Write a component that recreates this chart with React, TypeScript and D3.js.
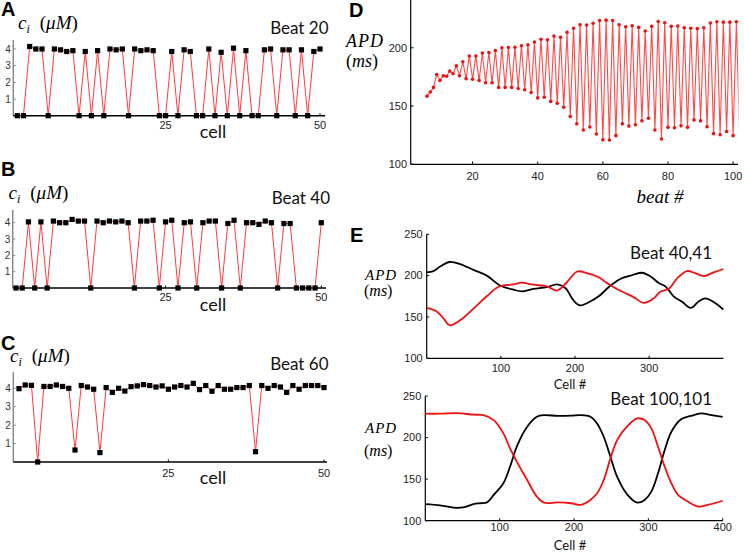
import React from 'react';
import * as d3 from 'd3';

// ---------- data ----------
const cells = d3.range(1, 51);
const ciBeat20 = [0, 0, 4.15, 4.0, 4.0, 0, 4.0, 3.95, 3.85, 3.9,
  0, 3.85, 0, 3.9, 0, 4.0, 3.95, 4.0, 0, 4.0,
  3.9, 3.95, 3.9, 0, 0, 3.85, 0, 3.95, 3.85, 0,
  0, 4.0, 0, 3.8, 0, 4.05, 0, 3.9, 0, 0,
  3.95, 4.0, 0, 3.95, 3.95, 0, 3.95, 0, 3.85, 4.0];
const ciBeat40 = [0, 0, 4.05, 0, 4.05, 0, 4.1, 4.0, 4.0, 4.2,
  4.1, 4.1, 0, 4.1, 4.0, 4.1, 4.05, 4.1, 4.0, 0,
  4.1, 4.1, 4.15, 0, 4.05, 4.15, 0, 4.0, 4.05, 0,
  4.0, 4.1, 4.1, 0, 3.95, 4.15, 0, 4.0, 4.0, 3.9,
  4.1, 4.0, 0, 3.95, 3.95, 0, 0, 0, 0, 4.0];
const ciBeat60 = [3.98, 4.18, 4.16, 0, 4.1, 4.1, 4.18, 4.1, 4.0, 0.65,
  4.15, 4.07, 3.95, 0.51, 4.04, 3.78, 4.0, 3.85, 4.09, 4.13,
  4.2, 4.15, 4.07, 4.13, 3.95, 4.07, 4.15, 4.07, 4.27, 3.93,
  4.15, 3.84, 4.15, 3.95, 3.95, 4.04, 4.04, 4.15, 0.56, 4.15,
  4.0, 4.15, 4.07, 3.78, 4.15, 3.95, 4.15, 4.15, 4.15, 4.04];
const ciTicks = [1, 2, 3, 4];
const cellTicks = [25, 50];

const firstBeat = 6;
const apdByBeat = [158.5, 162, 166, 177, 172, 176, 175.5, 180, 177.7, 184.5,
  176, 188, 173.5, 193, 173, 193, 172, 195.5, 170, 196,
  170, 197.7, 166, 200, 166, 200.3, 166, 200.5, 165, 201.7,
  164, 202.5, 161.6, 205, 157, 207.3, 157.6, 206.8, 154, 210,
  152.3, 209, 148.9, 213.3, 141, 216.7, 134.7, 219.8, 129.4, 219.5,
  132, 221, 126, 223.4, 121, 223.7, 120.8, 223.4, 124.6, 219.8,
  134.7, 218, 132.8, 218.9, 133.9, 217.5, 137.3, 214.4, 139.5, 218.4,
  129.4, 222.6, 121.7, 221.5, 131.7, 218.4, 131.4, 218.7, 133, 217.2,
  131.7, 216.7, 138.1, 216.4, 137.3, 217.2, 132.2, 221.2, 126.3, 222.3,
  125.4, 222, 128.2, 222, 124.6, 222.3, 125];
const beats = apdByBeat.map((_, i) => firstBeat + i);
const apdTicksD = [100, 150, 200];
const beatTicks = [20, 40, 60, 80, 100];

const apd40Black: [number, number][] = [[0, 204], [9, 205.5], [18, 211], [31, 216.5], [45, 214], [63, 207], [81, 200], [99, 188], [117, 183], [128, 181], [144, 184], [162, 186], [176, 189.5], [187, 185], [198, 170], [207, 164], [221, 169], [232, 175], [248, 188], [261, 196], [275, 200], [290, 203.5], [302, 199], [313, 191], [322, 187], [333, 175], [345, 168], [356, 161], [367, 169], [376, 172.5], [387, 168], [400, 159]];
const apd41Red: [number, number][] = [[0, 161], [13, 157], [22, 149], [31, 140], [45, 146], [63, 160], [81, 175], [97, 186.5], [117, 189.5], [128, 191.5], [144, 189], [162, 187], [176, 182], [189, 192], [203, 205], [216, 203], [232, 198], [243, 191], [257, 183.5], [270, 178], [279, 174], [293, 167], [306, 172.5], [315, 180.5], [327, 184.5], [338, 197], [351, 205.5], [362, 203], [374, 199.5], [387, 204], [400, 208]];
const apd100Black: [number, number][] = [[0, 120], [20, 118.5], [38, 115.7], [51, 116], [65, 120], [74, 121], [83, 122], [92, 131], [105, 145], [114, 165], [123, 189], [137, 213], [150, 225], [160, 227], [178, 226], [196, 226.3], [209, 227], [222, 225], [231, 217], [240, 201], [249, 177], [258, 153], [272, 131], [285, 121.7], [295, 125], [304, 135], [313, 157], [322, 185], [331, 207], [344, 222], [357, 226], [371, 229], [385, 227], [400, 225]];
const apd101Red: [number, number][] = [[0, 228.7], [20, 228.7], [42, 229.5], [65, 227.5], [78, 227], [92, 221], [105, 205], [114, 187], [123, 171], [137, 149], [150, 129], [160, 121.7], [178, 122], [196, 121], [209, 119], [222, 125], [231, 133], [240, 149], [249, 175], [258, 197], [272, 214], [285, 223], [295, 221], [304, 211], [313, 189], [322, 165], [331, 145], [340, 131], [353, 123], [367, 117], [380, 119], [400, 124]];
const apdTicksE = [100, 150, 200, 250];
const cellTicksTop = [100, 200, 300];
const cellTicksBottom = [100, 200, 300, 400];

// ---------- styles ----------
const SANS = 'Lato, "Open Sans", sans-serif';
const TICKF = '"Liberation Sans", Arial, sans-serif';
const MATH = '"Liberation Serif", "DejaVu Serif", serif';
const LETTERF = '"Liberation Sans", Arial, sans-serif';

type CiProps = {
  data: number[]; x0: number; x1: number; y0: number; y4: number;
  axisX: number; axisTop: number; axisRight: number;
  letter: string; letterY: number; beat: string; beatX: number; beatY: number;
  ciX: number; ciY: number; cellY: number; tickY: number;
};

function CiPanel(p: CiProps) {
  const x = d3.scaleLinear().domain([1, 50]).range([p.x0, p.x1]);
  const y = d3.scaleLinear().domain([0, 4]).range([p.y0, p.y4]);
  const line = d3.line<number>().x((_, i) => x(cells[i])).y(d => y(d));
  return (
    <g>
      <text x={1} y={p.letterY} fontFamily={LETTERF} fontWeight="bold" fontSize={20}>{p.letter}</text>
      <text x={p.ciX} y={p.ciY} fontFamily={MATH} fontSize={19} fontStyle="italic">
        c<tspan fontSize={12} dy={4}>i</tspan>
        <tspan dy={-4} dx={10} fontStyle="normal">(</tspan>
        <tspan>μM</tspan>
        <tspan fontStyle="normal">)</tspan>
      </text>
      <text x={p.beatX} y={p.beatY} fontFamily={SANS} fontSize={17} textAnchor="end" fill="#111">{p.beat}</text>
      <line x1={p.axisX} x2={p.axisX} y1={p.axisTop} y2={p.y0} stroke="#8a8a8a" strokeWidth={1.5} />
      {ciTicks.map(t => (
        <g key={t}>
          <line x1={p.axisX} x2={p.axisX + 2.5} y1={y(t)} y2={y(t)} stroke="#8a8a8a" />
          <text x={p.axisX - 2.5} y={y(t)} dy="0.35em" textAnchor="end" fontFamily={TICKF} fontSize={10} fill="#333">{t}</text>
        </g>
      ))}
      <line x1={p.axisX} x2={p.axisRight} y1={p.y0} y2={p.y0} stroke="#000" strokeWidth={1.5} />
      {cellTicks.map(t => (
        <g key={t}>
          <line x1={x(t)} x2={x(t)} y1={p.y0} y2={p.y0 - 2.5} stroke="#000" />
          <text x={x(t)} y={p.tickY} textAnchor="middle" fontFamily={TICKF} fontSize={11} fill="#222">{t}</text>
        </g>
      ))}
      <text x={213} y={p.cellY} textAnchor="middle" fontFamily={SANS} fontSize={18} fill="#111">cell</text>
      <path d={line(p.data) || ''} fill="none" stroke="#ff3b3b" strokeWidth={1} />
      {p.data.map((d, i) => (
        <rect key={i} x={x(cells[i]) - 2.6} y={y(d) - 2.6} width={5.2} height={5.2} fill="#000" />
      ))}
    </g>
  );
}

function PanelD() {
  const x = d3.scaleLinear().domain([1, 101.5]).range([410.7, 738]);
  const y = d3.scaleLinear().domain([100, 241]).range([164.3, 0]);
  const line = d3.line<number>().x((_, i) => x(beats[i])).y(d => y(d));
  return (
    <g>
      <text x={349} y={17} fontFamily={LETTERF} fontWeight="bold" fontSize={20}>D</text>
      <text x={346} y={47} fontFamily={MATH} fontStyle="italic" fontSize={18} letterSpacing={1}>APD</text>
      <text x={346} y={67} fontFamily={MATH} fontSize={18}>(<tspan fontStyle="italic">ms</tspan>)</text>
      <text x={660} y={203} textAnchor="middle" fontFamily={MATH} fontStyle="italic" fontSize={19}>beat #</text>
      <line x1={x.range()[0]} x2={x.range()[0]} y1={0} y2={164.3} stroke="#000" strokeWidth={1.2} />
      <line x1={x.range()[0]} x2={738} y1={164.3} y2={164.3} stroke="#000" strokeWidth={1.2} />
      {apdTicksD.map(t => (
        <g key={t}>
          <line x1={410.7} x2={413.5} y1={y(t)} y2={y(t)} stroke="#000" />
          <text x={407} y={y(t)} dy="0.35em" textAnchor="end" fontFamily={TICKF} fontSize={11} fill="#222">{t}</text>
        </g>
      ))}
      {beatTicks.map(t => (
        <g key={t}>
          <line x1={x(t)} x2={x(t)} y1={164.3} y2={161.5} stroke="#000" />
          <text x={x(t)} y={179.5} textAnchor="middle" fontFamily={TICKF} fontSize={11} fill="#222">{t}</text>
        </g>
      ))}
      <defs>
        <clipPath id="clipD"><rect x={400} y={0} width={338.5} height={170} /></clipPath>
      </defs>
      <g clipPath="url(#clipD)">
        <path d={line(apdByBeat) || ''} fill="none" stroke="#ff4a4a" strokeWidth={1.1} />
      </g>
      {apdByBeat.slice(0, apdByBeat.length - 1).map((d, i) => (
        <circle key={i} cx={x(beats[i])} cy={y(d)} r={1.8} fill="#ee1111" />
      ))}
    </g>
  );
}

type EProps = {
  black: [number, number][]; red: [number, number][];
  x0: number; x1: number; yLow: number; yHigh: number;
  xTicks: number[]; beat: string; beatY: number; apdY: number; msY: number;
  tickLabelY: number; cellY: number; letter?: boolean;
};

function PanelE(p: EProps) {
  const x = d3.scaleLinear().domain([0, 400]).range([p.x0, p.x1]);
  const y = d3.scaleLinear().domain([100, 250]).range([p.yLow, p.yHigh]);
  const line = d3.line<[number, number]>().x(d => x(d[0])).y(d => y(d[1])).curve(d3.curveCatmullRom.alpha(0.5));
  return (
    <g>
      {p.letter && <text x={350} y={242} fontFamily={LETTERF} fontWeight="bold" fontSize={20}>E</text>}
      <text x={365} y={p.apdY} fontFamily={MATH} fontStyle="italic" fontSize={15} letterSpacing={1}>APD</text>
      <text x={364} y={p.msY} fontFamily={MATH} fontSize={16}>(<tspan fontStyle="italic">ms</tspan>)</text>
      <text x={712} y={p.beatY} textAnchor="end" fontFamily={SANS} fontSize={17} fill="#111">{p.beat}</text>
      <line x1={p.x0} x2={p.x0} y1={p.yHigh} y2={p.yLow} stroke="#000" strokeWidth={1.2} />
      <line x1={p.x0} x2={p.x1} y1={p.yLow} y2={p.yLow} stroke="#000" strokeWidth={1.2} />
      {apdTicksE.map(t => (
        <g key={t}>
          <line x1={p.x0} x2={p.x0 + 2.5} y1={y(t)} y2={y(t)} stroke="#000" />
          <text x={p.x0 - 4} y={y(t)} dy="0.35em" textAnchor="end" fontFamily={TICKF} fontSize={11} fill="#222">{t}</text>
        </g>
      ))}
      {p.xTicks.map(t => (
        <g key={t}>
          <line x1={x(t)} x2={x(t)} y1={p.yLow} y2={p.yLow - 2.5} stroke="#000" />
          <text x={x(t)} y={p.tickLabelY} textAnchor="middle" fontFamily={TICKF} fontSize={11} fill="#222">{t}</text>
        </g>
      ))}
      <text x={570} y={p.cellY} textAnchor="middle" fontFamily={SANS} fontSize={13} fill="#111">Cell #</text>
      <path d={line(p.black) || ''} fill="none" stroke="#000" strokeWidth={1.8} />
      <path d={line(p.red) || ''} fill="none" stroke="#f01010" strokeWidth={1.8} />
    </g>
  );
}

export default function App() {
  return (
    <svg width={744} height={552} style={{ position: 'absolute', left: 0, top: 0, background: '#fff' }}>
      <rect width={744} height={552} fill="#fff" />
      <CiPanel data={ciBeat20} x0={17.3} x1={320} y0={115.7} y4={49} axisX={13.3} axisTop={40} axisRight={325}
        letter="A" letterY={16} beat="Beat 20" beatX={328.5} beatY={33.5} ciX={18} ciY={28.5} cellY={138} tickY={129} />
      <CiPanel data={ciBeat40} x0={16} x1={321.3} y0={288} y4={222.7} axisX={12.7} axisTop={210} axisRight={326}
        letter="B" letterY={176} beat="Beat 40" beatX={330} beatY={203.5} ciX={8.5} ciY={198.5} cellY={310.5} tickY={301} />
      <CiPanel data={ciBeat60} x0={19} x1={324} y0={462} y4={388.3} axisX={13.3} axisTop={372} axisRight={327}
        letter="C" letterY={350} beat="Beat 60" beatX={328.5} beatY={370} ciX={10} ciY={361.5} cellY={484} tickY={476.5} />
      <PanelD />
      <PanelE black={apd40Black} red={apd41Red} x0={426.7} x1={723.3} yLow={358.3} yHigh={234.3}
        xTicks={cellTicksTop} beat="Beat 40,41" beatY={259} apdY={280} msY={296} tickLabelY={372} cellY={389} letter />
      <PanelE black={apd100Black} red={apd101Red} x0={425.3} x1={722.7} yLow={520.7} yHigh={396}
        xTicks={cellTicksBottom} beat="Beat 100,101" beatY={405} apdY={433} msY={456} tickLabelY={530.5} cellY={550} />
    </svg>
  );
}
